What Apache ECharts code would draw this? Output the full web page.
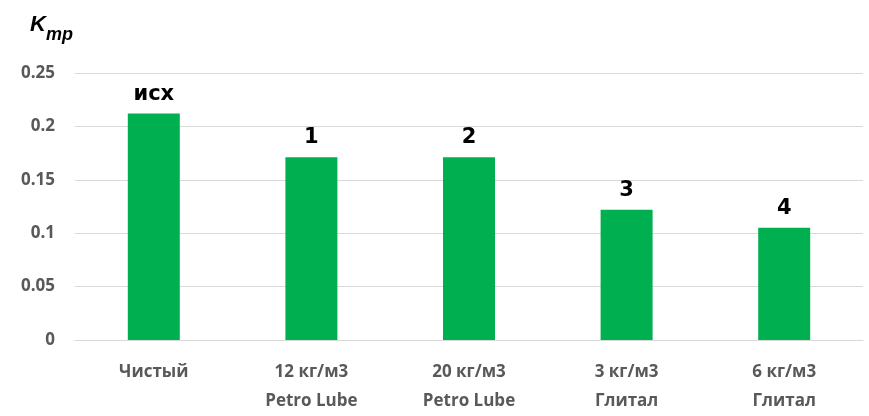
<!DOCTYPE html>
<html><head><meta charset="utf-8">
<script src="https://cdn.jsdelivr.net/npm/echarts@6/dist/echarts.min.js"></script>
<style>html,body{margin:0;padding:0;background:#fff}#c{width:869px;height:416px}</style>
</head><body><div id="c"></div>
<script>
const categories = ['Чистый', '12 кг/м3\nPetro Lube', '20 кг/м3\nPetro Lube', '3 кг/м3\nГлитал', '6 кг/м3\nГлитал'];
const values = [0.212, 0.171, 0.171, 0.122, 0.105];
const barLabels = ['исх', '1', '2', '3', '4'];
const yTicks = [0, 0.05, 0.1, 0.15, 0.2, 0.25];

const font = '"Open Sans", sans-serif';
const chart = echarts.init(document.getElementById('c'));
chart.setOption({
  animation: false,
  graphic: [
    { type: 'text', left: 30, top: 14, style: { text: 'K', fill: '#000', font: 'italic bold 22px "Liberation Sans", Arial' } },
    { type: 'text', left: 46, top: 26, style: { text: 'тр', fill: '#000', font: 'italic bold 18px "Liberation Sans", Arial' } }
  ],
  grid: { left: 75, right: 6, top: 73, bottom: 76, containLabel: false },
  xAxis: {
    type: 'category',
    data: categories,
    axisTick: { show: false },
    axisLine: { lineStyle: { color: '#d9d9d9' } },
    axisLabel: { color: '#595959', fontFamily: font, fontWeight: 'bold', fontSize: 17, lineHeight: 29, margin: 18 }
  },
  yAxis: {
    type: 'value',
    min: 0, max: 0.25, interval: 0.05,
    axisLabel: {
      color: '#595959', fontFamily: font, fontWeight: 'bold', fontSize: 17, margin: 20,
      formatter: v => { const t = yTicks.find(x => Math.abs(x - v) < 1e-9); return String(t); }
    },
    splitLine: { lineStyle: { color: '#d9d9d9' } },
    axisLine: { show: false }, axisTick: { show: false }
  },
  series: [{
    type: 'bar',
    data: values,
    barWidth: 52,
    itemStyle: { color: '#00B050' },
    label: {
      show: true, position: 'top', distance: 9,
      formatter: p => barLabels[p.dataIndex],
      color: '#000', fontFamily: '"DejaVu Sans", sans-serif', fontWeight: 'bold', fontSize: 21
    }
  }]
});
</script></body></html>
